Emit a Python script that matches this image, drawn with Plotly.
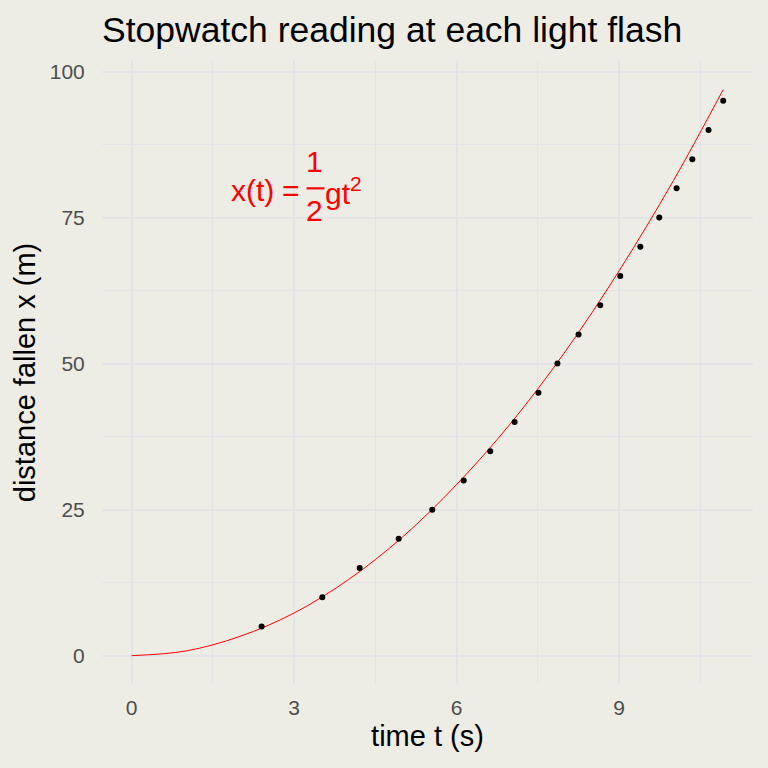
import plotly.graph_objects as go

# flash readings: stopwatch time (s) vs distance fallen (m)
flash_time = [2.40, 3.52, 4.21, 4.93, 5.55, 6.13, 6.62, 7.07, 7.51, 7.86,
              8.25, 8.65, 9.02, 9.39, 9.74, 10.06, 10.35, 10.65, 10.92]
flash_dist = [5, 10, 15, 20, 25, 30, 35, 40, 45, 50,
              55, 60, 65, 70, 75, 80, 85, 90, 95]

# red model curve x(t) = 1/2 g t^2
curve_time = [0, 1, 2, 3, 4, 5, 6, 7, 8, 9, 10, 10.92]
curve_dist = [0, 0.8, 3.3, 7.3, 13.0, 20.3, 29.3, 39.8, 52.0, 65.9, 81.3, 96.9]

x_ticks = [0, 3, 6, 9]
y_ticks = [0, 25, 50, 75, 100]

BG = '#EDEDE6'
GRID = '#E3E3E8'
FONT = 'Liberation Sans, Arial, sans-serif'

fig = go.Figure()

fig.add_trace(go.Scatter(
    x=curve_time, y=curve_dist,
    mode='lines',
    line=dict(color='#FF0000', width=1, shape='spline'),
    showlegend=False, hoverinfo='skip'
))

fig.add_trace(go.Scatter(
    x=flash_time, y=flash_dist,
    mode='markers',
    marker=dict(color='black', size=6),
    showlegend=False
))

# formula label, built from pieces since there's no MathJax offline
red = dict(family=FONT, size=30, color='#FF0000')
fig.add_annotation(x=1.80, y=79.6, xref='x', yref='y', text='x(t)',
                   showarrow=False, xanchor='left', yanchor='middle', font=red)
fig.add_annotation(x=2.945, y=79.6, xref='x', yref='y', text='=',
                   showarrow=False, xanchor='center', yanchor='middle', font=red)
fig.add_annotation(x=3.385, y=84.6, xref='x', yref='y', text='1',
                   showarrow=False, xanchor='center', yanchor='middle', font=red)
fig.add_annotation(x=3.385, y=76.2, xref='x', yref='y', text='2',
                   showarrow=False, xanchor='center', yanchor='middle', font=red)
fig.add_annotation(x=3.53, y=79.6, xref='x', yref='y', text='gt<sup>2</sup>',
                   showarrow=False, xanchor='left', yanchor='middle', font=red)
fig.add_shape(type='line', xref='x', yref='y', x0=3.23, x1=3.56, y0=80.0, y1=80.0,
              line=dict(color='#FF0000', width=2.2))

fig.update_layout(
    width=768, height=768,
    paper_bgcolor=BG, plot_bgcolor=BG,
    margin=dict(l=102, r=15, t=61, b=84),
    font=dict(family=FONT, color='black'),
    title=dict(text='Stopwatch reading at each light flash',
               x=0, xanchor='left', xref='paper',
               y=1 - 29.5 / 768, yanchor='middle', yref='container',
               font=dict(size=35.5, color='black')),
)

fig.update_xaxes(
    range=[-0.546, 11.47], tickvals=x_ticks,
    showgrid=True, gridcolor=GRID, gridwidth=2,
    minor=dict(dtick=1.5, tick0=0, showgrid=True, gridcolor=GRID, gridwidth=1),
    zeroline=False, showline=False,
    ticks='outside', ticklen=5, tickcolor='rgba(0,0,0,0)',
    tickfont=dict(size=21, color='#4D4D4D'),
    title=dict(text='time t (s)', font=dict(size=29), standoff=7),
)
fig.update_yaxes(
    range=[-4.85, 101.8], tickvals=y_ticks,
    showgrid=True, gridcolor=GRID, gridwidth=2,
    minor=dict(dtick=12.5, tick0=0, showgrid=True, gridcolor=GRID, gridwidth=1),
    zeroline=False, showline=False,
    ticks='outside', ticklen=12, tickcolor='rgba(0,0,0,0)',
    tickfont=dict(size=21, color='#4D4D4D'),
    title=dict(text='distance fallen x (m)', font=dict(size=29), standoff=5),
)

fig.write_html("out.html", config={'displayModeBar': False},
               post_script="document.body.style.margin='0';")
